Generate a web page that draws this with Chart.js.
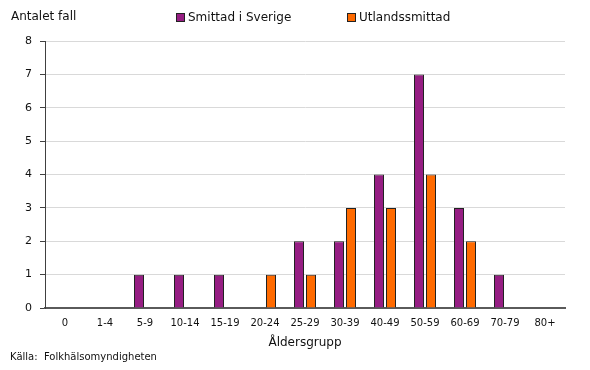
<!DOCTYPE html>
<html>
<head>
<meta charset="utf-8">
<script src="https://cdn.jsdelivr.net/npm/chart.js@4/dist/chart.umd.min.js"></script>
<style>
  html, body { margin: 0; padding: 0; background: #fff; }
  #wrap { position: relative; width: 590px; height: 370px; }
  canvas { display: block; }
</style>
</head>
<body>
<div id="wrap"><canvas id="c" width="590" height="370"></canvas></div>
<script>
const categories = ["0", "1-4", "5-9", "10-14", "15-19", "20-24", "25-29", "30-39", "40-49", "50-59", "60-69", "70-79", "80+"];
const seriesNames = ["Smittad i Sverige", "Utlandssmittad"];
const smittadISverige = [0, 0, 1, 1, 1, 0, 2, 2, 4, 7, 3, 1, 0];
const utlandssmittad = [0, 0, 0, 0, 0, 1, 1, 3, 3, 4, 2, 0, 0];
const yTicks = [0, 1, 2, 3, 4, 5, 6, 7, 8];
const yTitle = "Antalet fall";
const xTitle = "Åldersgrupp";
const sourceText = "Källa:  Folkhälsomyndigheten";

const FONT = "'DejaVu Sans', Verdana, sans-serif";
const colors = ["#961E83", "#FF6A00"];

const textPlugin = {
  id: 'extraText',
  afterDraw(chart) {
    const ctx = chart.ctx;
    ctx.save();
    ctx.fillStyle = '#111';
    ctx.textBaseline = 'middle';
    ctx.textAlign = 'left';
    ctx.font = "12px " + FONT;
    ctx.fillText(yTitle, 11, 17);
    const items = [{x: 176, tx: 188}, {x: 347, tx: 359}];
    chart.data.datasets.forEach((ds, i) => {
      const it = items[i];
      ctx.fillStyle = ds.backgroundColor;
      ctx.fillRect(it.x + 0.5, 13.5, 8, 8);
      ctx.strokeStyle = '#222';
      ctx.lineWidth = 1;
      ctx.strokeRect(it.x + 0.5, 13.5, 8, 8);
      ctx.fillStyle = '#111';
      ctx.font = "12px " + FONT;
      ctx.fillText(ds.label, it.tx, 18);
    });
    ctx.font = "10px " + FONT;
    ctx.fillStyle = '#111';
    ctx.fillText(sourceText, 10, 357);
    ctx.restore();
  }
};

new Chart(document.getElementById('c'), {
  type: 'bar',
  data: {
    labels: categories,
    datasets: [
      { label: seriesNames[0], data: smittadISverige, backgroundColor: colors[0], borderColor: '#222', borderWidth: 1, inflateAmount: 0 },
      { label: seriesNames[1], data: utlandssmittad, backgroundColor: colors[1], borderColor: '#222', borderWidth: 1, inflateAmount: 0 }
    ]
  },
  options: {
    responsive: false,
    animation: false,
    devicePixelRatio: 1,
    categoryPercentage: 0.6,
    barPercentage: 0.8333,
    layout: { padding: { left: 0, right: 25, top: 41, bottom: 0 } },
    plugins: { legend: { display: false }, title: { display: false }, tooltip: { enabled: false } },
    scales: {
      x: {
        grid: { display: false, drawTicks: false },
        border: { display: true, color: '#5a5a5a', width: 2 },
        ticks: { color: '#111', font: { family: FONT, size: 10 }, padding: 9, maxRotation: 0, autoSkip: false },
        title: { display: true, text: xTitle, color: '#111', font: { family: FONT, size: 12 }, padding: { top: 0, bottom: 20 } },
        afterFit(scale) { scale.height = 62; }
      },
      y: {
        min: 0, max: 8,
        afterBuildTicks(scale) { scale.ticks = yTicks.map(v => ({ value: v })); },
        grid: { color: '#d9d9d9', lineWidth: 1, drawTicks: true, tickLength: 5, tickColor: '#404040' },
        border: { display: true, color: '#404040', width: 1 },
        ticks: { color: '#111', font: { family: FONT, size: 11 }, padding: 8 },
        afterFit(scale) { scale.width = 45; }
      }
    }
  },
  plugins: [textPlugin]
});
</script>
</body>
</html>
